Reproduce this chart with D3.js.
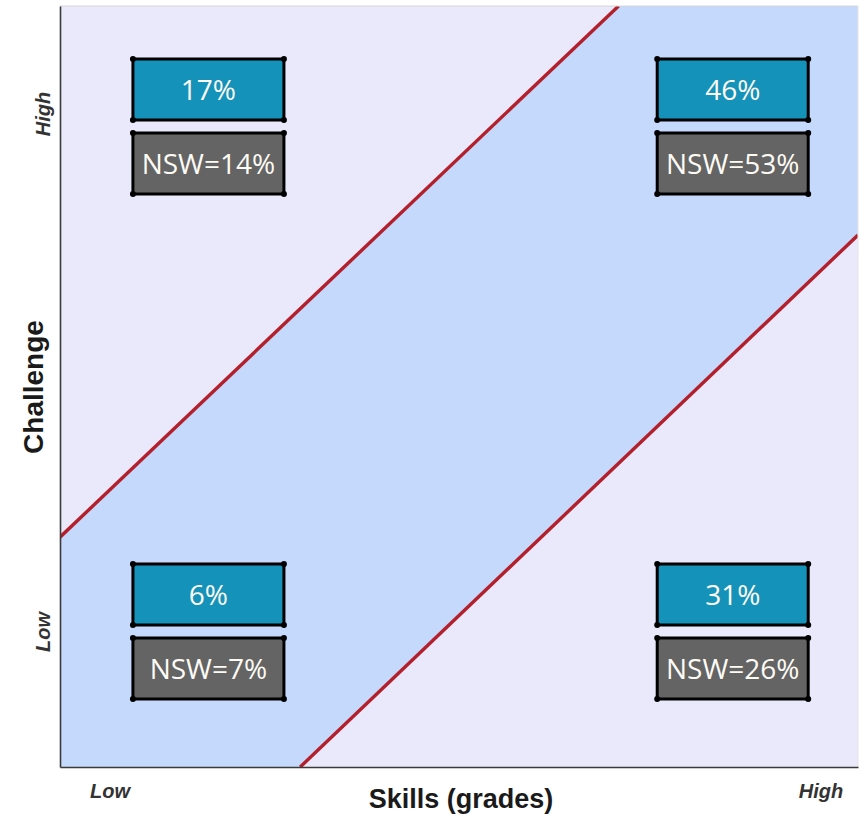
<!DOCTYPE html>
<html>
<head>
<meta charset="utf-8">
<script src="https://cdn.jsdelivr.net/npm/d3@7"></script>
<style>
  html, body { margin: 0; padding: 0; background: #ffffff; }
  svg { display: block; }
</style>
</head>
<body>
<svg id="chart" width="860" height="815"></svg>
<script>
// ---------------- DATA ----------------
const xLevels = ["Low", "High"];          // Skills (grades)
const yLevels = ["Low", "High"];          // Challenge
const quadSkill = ["Low", "High", "Low", "High"];
const quadChallenge = ["High", "High", "Low", "Low"];
const schoolValues = ["17%", "46%", "6%", "31%"];
const nswValues = ["NSW=14%", "NSW=53%", "NSW=7%", "NSW=26%"];
// flow channel boundary lines (in 0..1 skill / challenge units)
const upperLine = [[0, 0.302], [0.700, 1]];
const lowerLine = [[0.301, 0], [1, 0.699]];
const xAxisTitle = "Skills (grades)";
const yAxisTitle = "Challenge";

// ---------------- LAYOUT ----------------
const svg = d3.select("#chart");
const L = 60, R = 858, T = 6, B = 767;
const x = d3.scaleLinear().domain([0, 1]).range([L, R]);
const y = d3.scaleLinear().domain([0, 1]).range([B, T]);
const qx = d3.scalePoint().domain(xLevels).range([0.186, 0.843]);

const bgCol = "#e9e9fb", bandCol = "#c4d9fc", lineCol = "#b3202b";
const tealCol = "#1592b9", grayCol = "#646464";

svg.append("defs").append("clipPath").attr("id", "plotClip")
  .append("rect").attr("x", L).attr("y", T).attr("width", R - L).attr("height", B - T);

svg.append("rect").attr("x", L).attr("y", T).attr("width", R - L).attr("height", B - T)
  .attr("fill", bgCol);

const g = svg.append("g").attr("clip-path", "url(#plotClip)");
const bandPts = [
  [0, 0], [lowerLine[0][0], 0], [1, lowerLine[1][1]], [1, 1],
  [upperLine[1][0], 1], [0, upperLine[0][1]]
];
g.append("path")
  .attr("d", d3.line().x(d => x(d[0])).y(d => y(d[1]))(bandPts) + "Z")
  .attr("fill", bandCol);

const ln = d3.line().x(d => x(d[0])).y(d => y(d[1]));
[upperLine, lowerLine].forEach(pts => {
  g.append("path").attr("d", ln(pts)).attr("fill", "none")
    .attr("stroke", lineCol).attr("stroke-width", 3.4);
});

svg.append("line").attr("x1", L).attr("x2", R).attr("y1", T).attr("y2", T)
  .attr("stroke", "#d6d6d6").attr("stroke-width", 1);
svg.append("line").attr("x1", R).attr("x2", R).attr("y1", T).attr("y2", B)
  .attr("stroke", "#e4e4e4").attr("stroke-width", 1);
svg.append("g").attr("transform", `translate(0,${B})`)
  .call(d3.axisBottom(x).ticks(0).tickSize(0).tickFormat(""))
  .call(s => s.select(".domain").attr("stroke", "#3a3a3a").attr("stroke-width", 1.6));
svg.append("g").attr("transform", `translate(${L},0)`)
  .call(d3.axisLeft(y).ticks(0).tickSize(0).tickFormat(""))
  .call(s => s.select(".domain").attr("stroke", "#3a3a3a").attr("stroke-width", 1.6));

// boxes
const boxW = 151, boxH = 61, gap = 13;
const quads = schoolValues.map((v, i) => ({
  s: quadSkill[i], c: quadChallenge[i], v, n: nswValues[i]
}));
quads.forEach(d => {
  const cx = x(qx(d.s));
  const top = d.c === "High" ? 59 : 564;
  const boxes = [
    { y0: top, fill: tealCol, txt: d.v },
    { y0: top + boxH + gap, fill: grayCol, txt: d.n }
  ];
  boxes.forEach(b => {
    const x0 = cx - boxW / 2;
    svg.append("rect").attr("x", x0).attr("y", b.y0).attr("width", boxW).attr("height", boxH)
      .attr("fill", b.fill).attr("stroke", "#000").attr("stroke-width", 3);
    [[x0, b.y0], [x0 + boxW, b.y0], [x0, b.y0 + boxH], [x0 + boxW, b.y0 + boxH]].forEach(p => {
      svg.append("circle").attr("cx", p[0]).attr("cy", p[1]).attr("r", 3).attr("fill", "#000");
    });
    svg.append("text").attr("x", cx).attr("y", b.y0 + boxH / 2 + 10)
      .attr("text-anchor", "middle")
      .attr("font-family", "'Open Sans', sans-serif").attr("font-size", 28)
      .attr("fill", "#fdfbf4").text(b.txt);
  });
});

// axis titles
svg.append("text").attr("x", 461).attr("y", 808).attr("text-anchor", "middle")
  .attr("font-family", "'Liberation Sans', Arial, sans-serif").attr("font-weight", "bold")
  .attr("font-size", 27).attr("fill", "#1a1a1a").text(xAxisTitle);
svg.append("text").attr("transform", "translate(43,387) rotate(-90)").attr("text-anchor", "middle")
  .attr("font-family", "'Liberation Sans', Arial, sans-serif").attr("font-weight", "bold")
  .attr("font-size", 28).attr("fill", "#1a1a1a").text(yAxisTitle);

// level labels
const lvlFont = { fam: "'Liberation Sans', Arial, sans-serif", size: 20 };
function lvl(tx, txt, rot) {
  svg.append("text").attr("transform", tx + (rot ? " rotate(-90)" : ""))
    .attr("text-anchor", "middle")
    .attr("font-family", lvlFont.fam).attr("font-weight", "bold").attr("font-style", "italic")
    .attr("font-size", lvlFont.size).attr("fill", "#333").text(txt);
}
lvl("translate(110,798)", xLevels[0], false);
lvl("translate(821,798)", xLevels[1], false);
lvl("translate(50,632)", yLevels[0], true);
lvl("translate(50,114)", yLevels[1], true);
</script>
</body>
</html>
